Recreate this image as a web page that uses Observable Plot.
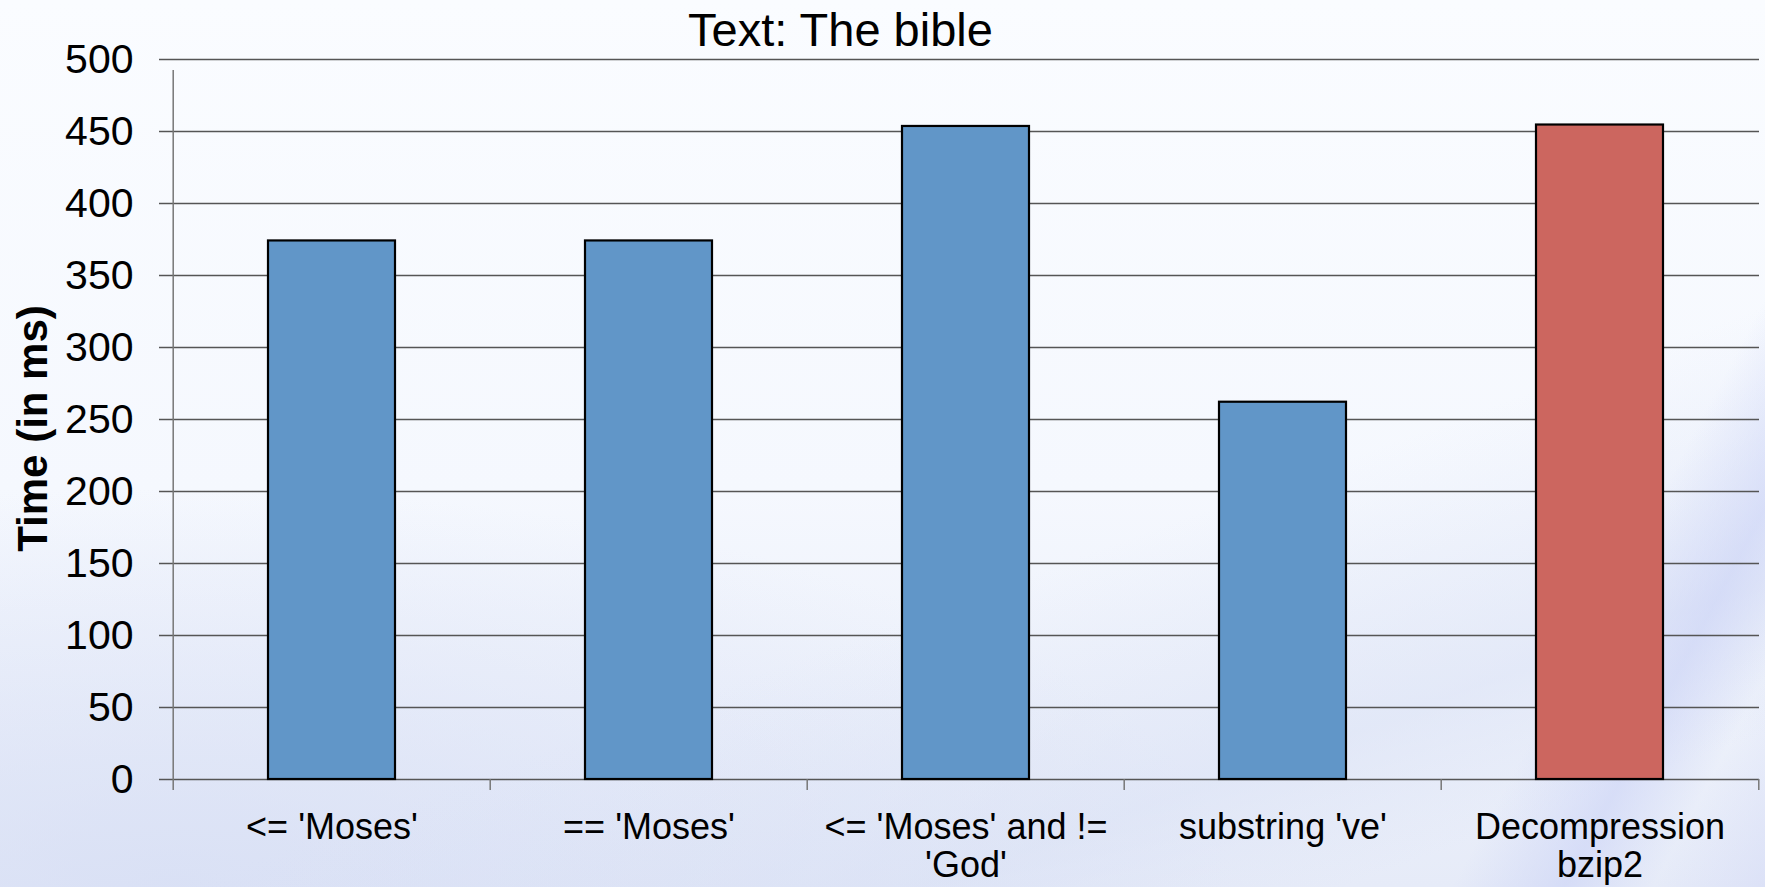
<!DOCTYPE html>
<html>
<head>
<meta charset="utf-8">
<script src="https://cdn.jsdelivr.net/npm/d3@7"></script>
<script src="https://cdn.jsdelivr.net/npm/@observablehq/plot@0.6"></script>
<style>
  html, body { margin: 0; padding: 0; }
  body {
    width: 1765px; height: 887px; overflow: hidden;
    background:
      linear-gradient(118deg, rgba(255,255,255,0) 86%, rgba(200,208,246,0.55) 91%, rgba(255,255,255,0) 95%, rgba(208,214,246,0.45) 100%),
      linear-gradient(160deg, rgba(255,255,255,0) 62%, rgba(214,222,244,0.45) 80%, rgba(255,255,255,0) 90%),
      radial-gradient(ellipse 60% 45% at 10% 100%, rgba(212,220,244,0.7), rgba(255,255,255,0)),
      linear-gradient(to bottom, #fafcff 0%, #f5f8fe 55%, #e6ebf8 100%);
    font-family: "Liberation Sans", Arial, sans-serif;
  }
  #chart svg { display: block; }
</style>
</head>
<body>
<div id="chart"></div>
<script>
// ---- data ----
const categories = ["<= 'Moses'", "== 'Moses'", "<= 'Moses' and !=\n'God'", "substring 've'", "Decompression\nbzip2"];
const times = [374, 374, 453.5, 262, 454.5];
const kinds = ["query", "query", "query", "query", "decompression"];
const yTicks = [0, 50, 100, 150, 200, 250, 300, 350, 400, 450, 500];
const title = "Text: The bible";
const yLabel = "Time (in ms)";

const data = categories.map((name, i) => ({name, time: times[i], kind: kinds[i]}));

// ---- layout ----
const W = 1765, H = 887;
const mL = 171, mR = 6, mT = 59, mB = 108;
const step = (W - mL - mR) / categories.length;
const font = "Liberation Sans, Arial, sans-serif";
const gridColor = "#555";
const axisColor = "#777";

const chart = Plot.plot({
  width: W,
  height: H,
  marginLeft: mL,
  marginRight: mR,
  marginTop: mT,
  marginBottom: mB,
  style: {background: "transparent", fontFamily: font, fontSize: "40px", color: "black"},
  x: {type: "band", domain: categories, paddingInner: 0.6, paddingOuter: 0.3, axis: null},
  y: {domain: [0, 500], axis: null},
  color: {domain: ["query", "decompression"], range: ["#6196c8", "#cc665f"]},
  marks: [
    Plot.gridY(yTicks, {stroke: gridColor, strokeOpacity: 1, strokeWidth: 1.5}),
    Plot.axisY({ticks: yTicks, tickSize: 12, tickPadding: 26, stroke: gridColor, strokeWidth: 1.5,
                fill: "black", fontSize: 41, label: null}),
    // left axis line
    Plot.ruleX([categories[0]], {x: d => d, dx: -step / 2, y1: 0, y2: 500, insetBottom: -11,
                                  stroke: axisColor, strokeWidth: 1.5}),
    // band boundary ticks below the x axis
    Plot.ruleX(categories, {x: d => d, dx: -step / 2, y1: 0, y2: 0, insetBottom: -11,
                            stroke: axisColor, strokeWidth: 1.5}),
    Plot.ruleX([categories[categories.length - 1]], {x: d => d, dx: step / 2, y1: 0, y2: 0, insetBottom: -11,
                                  stroke: axisColor, strokeWidth: 1.5}),
    Plot.barY(data, {x: "name", y: "time", fill: "kind", stroke: "black", strokeWidth: 2.2}),
    // x tick labels
    Plot.text(categories, {x: d => d, text: d => d, frameAnchor: "bottom", lineAnchor: "top",
                           dy: 32, fontSize: 36, lineHeight: 1.06, fill: "black"}),
    // title
    Plot.text([title], {frameAnchor: "top", lineAnchor: "middle", dx: -125, dy: -29,
                        fontSize: 47, fill: "black"}),
    // y label
    Plot.text([yLabel], {frameAnchor: "left", textAnchor: "middle", lineAnchor: "middle", rotate: -90,
                         dx: -138, dy: 9, fontSize: 42, fontWeight: "bold", fill: "black"})
  ]
});
document.getElementById("chart").appendChild(chart);
</script>
</body>
</html>
